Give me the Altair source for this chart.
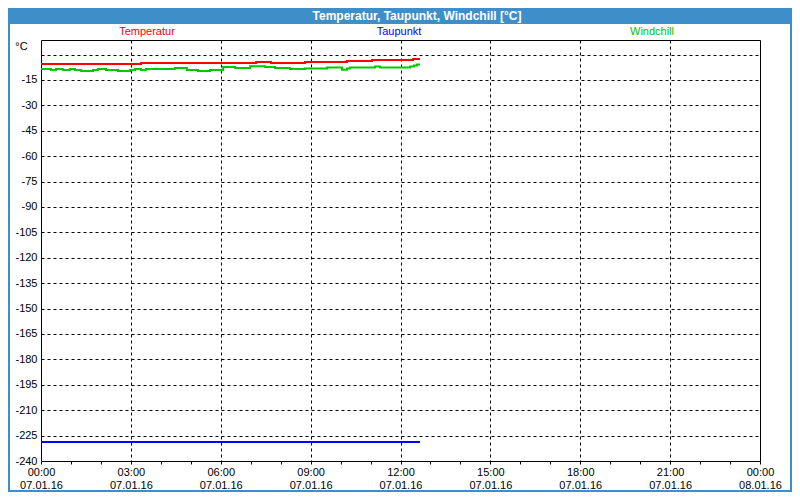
import json
import altair as alt
import pandas as pd

# ---------------- data ----------------
series = ["Temperatur", "Taupunkt", "Windchill"]
colors = ["#ff0000", "#0000ff", "#00c800"]
legend_colors = ["#ff0000", "#0000ff", "#00c000"]

temp_hours = [0.00, 3.34, 7.18, 7.68, 8.81, 10.21, 11.05, 12.42, 12.65]
temp_values = [-5.6, -5.0, -4.4, -5.0, -4.4, -3.8, -3.2, -2.6, -2.6]

dew_hours = [0.00, 12.65]
dew_values = [-228.8, -228.8]

wc_hours = [0.00, 0.33, 0.50, 0.73, 0.97, 1.13, 1.34, 1.74, 1.90, 2.17, 2.57, 2.97,
            3.14, 3.34, 3.50, 4.47, 4.87, 5.24, 5.64, 6.08, 6.48, 6.98, 7.48, 7.81,
            8.31, 8.81, 9.55, 10.05, 10.21, 10.31, 11.15, 11.32, 12.32, 12.45, 12.55, 12.65]
wc_values = [-8.5, -9.1, -8.5, -9.1, -8.5, -9.1, -9.7, -9.1, -8.5, -9.1, -9.7, -9.1,
             -8.5, -9.1, -8.5, -7.9, -9.1, -9.7, -9.1, -7.3, -7.9, -6.9, -7.3, -7.9,
             -8.5, -8.3, -7.7, -8.9, -8.3, -7.7, -7.1, -7.7, -7.1, -6.5, -5.9, -5.9]

time_labels = ["00:00", "03:00", "06:00", "09:00", "12:00", "15:00", "18:00", "21:00", "00:00"]
date_labels = ["07.01.16"] * 8 + ["08.01.16"]
y_ticks = list(range(-240, 1, 15))
title_text = "Temperatur, Taupunkt, Windchill [°C]"
unit_text = "°C"

rows = []
for name, hs, vs in [("Temperatur", temp_hours, temp_values),
                     ("Taupunkt", dew_hours, dew_values),
                     ("Windchill", wc_hours, wc_values)]:
    for h, v in zip(hs, vs):
        rows.append({"series": name, "hour": h, "value": v})
df = pd.DataFrame(rows)

FONT = "Liberation Sans"
BAR_BLUE = "#3d8ec9"

x_label_expr = (
    f"datum.value % 3 == 0 ? [{json.dumps(time_labels)}[datum.value / 3], "
    f"{json.dumps(date_labels)}[datum.value / 3]] : ''"
)

lines = alt.Chart(df).mark_line(interpolate="step-after", strokeWidth=2).encode(
    x=alt.X(
        "hour:Q",
        scale=alt.Scale(domain=[0, 24], nice=False, zero=False),
        axis=alt.Axis(
            values=list(range(0, 25)),
            labelExpr=x_label_expr,
            labelOverlap=False,
            labelFlush=False,
            labelPadding=2,
            labelLineHeight=13,
            labelBaseline="top",
            grid=True,
            gridDash=[3, 3],
            gridColor="black",
            gridOpacity={"condition": {"test": "datum.value % 3 == 0 && datum.value > 0 && datum.value < 24", "value": 1}, "value": 0},
            tickSize=3,
            tickColor="black",
            domain=False,
            title=None,
        ),
    ),
    y=alt.Y(
        "value:Q",
        scale=alt.Scale(domain=[-240, 8.6], nice=False, zero=False),
        axis=alt.Axis(
            values=y_ticks,
            labelExpr="datum.value == 0 ? '' : '' + datum.value",
            grid=True,
            gridDash=[3, 3],
            gridColor="black",
            ticks=False,
            domain=False,
            labelPadding=4,
            title=unit_text,
            titleAngle=0,
            titleX=-20,
            titleY=6,
            titleAlign="center",
            titleBaseline="middle",
            titleFontWeight="normal",
            titleFont=FONT,
            titleFontSize=11,
            titleColor="black",
        ),
    ),
    color=alt.Color("series:N", scale=alt.Scale(domain=series, range=colors), legend=None),
)

one = pd.DataFrame({"k": [0]})

title_bar = alt.Chart(one).mark_rect(color=BAR_BLUE).encode(
    x=alt.value(-33), x2=alt.value(751), y=alt.value(-32), y2=alt.value(-16)
)
title_mark = alt.Chart(pd.DataFrame({"t": [title_text]})).mark_text(
    font=FONT, fontSize=12, fontWeight="bold", color="white", align="center", baseline="middle"
).encode(text="t:N", x=alt.value(376), y=alt.value(-24))

frame = alt.Chart(one).mark_rect(fillOpacity=0, stroke=BAR_BLUE, strokeWidth=2).encode(
    x=alt.value(-32), x2=alt.value(750), y=alt.value(-31), y2=alt.value(451)
)

legend_x = [106, 358, 611]
legend_layers = []
for name, col, xp in zip(series, legend_colors, legend_x):
    legend_layers.append(
        alt.Chart(pd.DataFrame({"t": [name]})).mark_text(
            font=FONT, fontSize=11, color=col, align="center", baseline="middle"
        ).encode(text="t:N", x=alt.value(xp), y=alt.value(-8))
    )

chart = alt.layer(lines, title_bar, title_mark, *legend_layers, frame).properties(
    width=719,
    height=421,
    autosize=alt.AutoSizeParams(type="none"),
    padding={"left": 33, "top": 32, "right": 32, "bottom": 31},
    background="white",
).configure_view(
    stroke="black", strokeWidth=1
).configure_axis(
    labelFont=FONT, labelFontSize=11, labelColor="black"
)

chart.save("out.html", embed_options={"renderer": "svg", "actions": False})
